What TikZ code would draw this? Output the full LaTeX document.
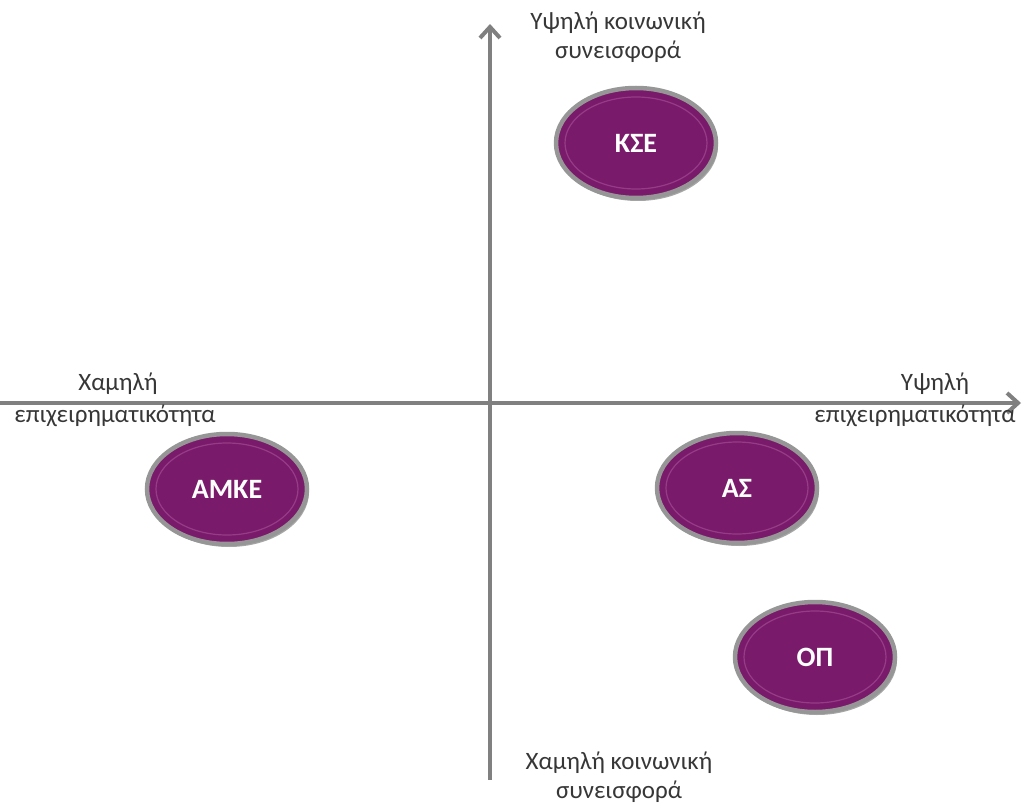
\documentclass[tikz,border=0pt]{standalone}
\usepackage{fontspec}
\setmainfont{Carlito}
\usetikzlibrary{arrows.meta,shapes.geometric,shadows}
\definecolor{purp}{RGB}{122,26,106}
\definecolor{purpring}{RGB}{150,60,135}
\definecolor{rimgray}{RGB}{150,150,150}
\definecolor{axisgray}{RGB}{128,128,128}
\definecolor{txtgray}{RGB}{55,55,55}
\tikzset{
  oval/.style={ellipse, fill=purp, draw=rimgray, line width=4.5pt,
    minimum width=160pt, minimum height=110pt, inner sep=0pt,
    drop shadow={shadow xshift=2pt, shadow yshift=-3pt, opacity=0.35, fill=black},
    text=white, font=\fontsize{28}{30}\selectfont\bfseries,
    path picture={\draw[purpring, line width=1.2pt]
      (path picture bounding box.center) ellipse (71pt and 46pt);}},
  axis/.style={draw=axisgray, line width=4pt,
    -{Straight Barb[length=11pt, width=20pt, line width=4pt]}},
  lbl/.style={text=txtgray, font=\fontsize{25}{29}\selectfont, align=center, inner sep=0pt}
}
\begin{document}
\begin{tikzpicture}[x=1pt,y=1pt]
\useasboundingbox (0,0) rectangle (1025,-805);
\coordinate (vb) at (490,-780);
\coordinate (vt) at (490,-24);
\coordinate (hl) at (0,-403);
\coordinate (hr) at (1021,-403);
\draw[axis] (vb) -- (vt);
\draw[axis] (hl) -- (hr);
\node[oval] (kse) at (636,-143) {ΚΣΕ};
\node[oval] (amke) at (227,-489) {ΑΜΚΕ};
\node[oval] (as) at (737,-488) {ΑΣ};
\node[oval] (op) at (815,-657) {ΟΠ};
\node[lbl] (top) at (618,-37) {Υψηλή κοινωνική\\συνεισφορά};
\node[lbl] (bot) at (619,-777) {Χαμηλή κοινωνική\\συνεισφορά};
\node[lbl] (lefta) at (118,-384) {Χαμηλή};
\node[lbl] (leftb) at (115,-416) {επιχειρηματικότητα};
\node[lbl] (righta) at (935,-384) {Υψηλή};
\node[lbl] (rightb) at (915,-416) {επιχειρηματικότητα};
\end{tikzpicture}
\end{document}
